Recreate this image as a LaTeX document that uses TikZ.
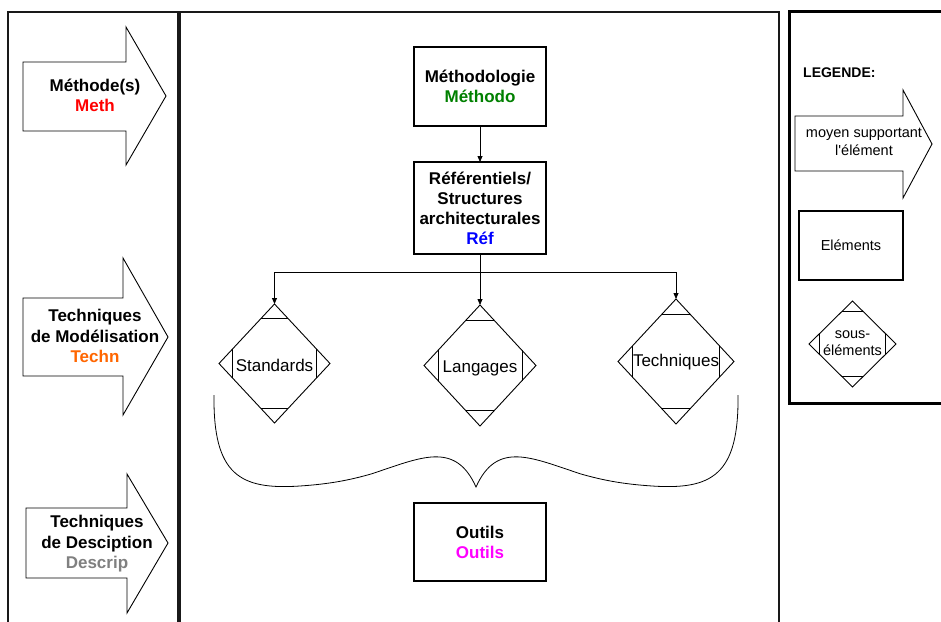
\documentclass[tikz,border=0pt]{standalone}
\usepackage{fontspec}
\setmainfont{Liberation Sans}[Ligatures=TeXOff]
\usetikzlibrary{shapes.geometric,arrows.meta,calc}
\definecolor{methred}{RGB}{255,0,0}
\definecolor{techorange}{RGB}{255,102,0}
\definecolor{descgray}{RGB}{128,128,128}
\definecolor{methgreen}{RGB}{0,128,0}
\definecolor{refblue}{RGB}{0,0,255}
\definecolor{outmagenta}{RGB}{255,0,255}
\newcommand\diamondcuts[1]{%
  \draw[thinline] ($(#1.north)!0.25!(#1.west)$) -- ($(#1.north)!0.25!(#1.east)$);
  \draw[thinline] ($(#1.south)!0.25!(#1.west)$) -- ($(#1.south)!0.25!(#1.east)$);
  \draw[thinline] ($(#1.west)!0.25!(#1.north)$) -- ($(#1.west)!0.25!(#1.south)$);
  \draw[thinline] ($(#1.east)!0.25!(#1.north)$) -- ($(#1.east)!0.25!(#1.south)$);
}
\begin{document}
\begin{tikzpicture}[x=1pt,y=-1pt,
  thinline/.style={draw=black,line width=0.8pt},
  panel/.style={draw=black!90,line width=1.8pt},
  legendframe/.style={draw=black,line width=3pt},
  arrowshape/.style={draw=black,line width=0.9pt,fill=white,line join=miter},
  bigtext/.style={align=center,inner sep=0pt,font=\fontsize{17}{20.5}\selectfont\bfseries},
  elembox/.style={draw=black,line width=1.1pt,fill=white,inner sep=0pt,outer sep=0pt,align=center,font=\fontsize{17}{20}\selectfont\bfseries},
  subdiamond/.style={diamond,draw=black,line width=0.9pt,inner sep=0pt,outer sep=0pt,aspect=1},
  subtext/.style={inner sep=0pt,align=center,font=\fontsize{17}{20}\selectfont},
  legtext/.style={inner sep=0pt,align=center,font=\fontsize{14.5}{17.5}\selectfont},
  conn/.style={thinline,-{Triangle[length=6pt,width=5pt]}}]
\useasboundingbox (0,0) rectangle (941,621);
\clip (0,0) rectangle (941,621);
\fill[white] (0,0) rectangle (941,621);
% panels
\draw[panel] (8,12) rectangle (178,650);
\draw[panel] (180,12) rectangle (779,650);
\draw[legendframe] (789,11) rectangle (950,403);
% left arrows
\draw[arrowshape] (23,62) -- (126,62) -- (126,27) -- (166,96) -- (126,165) -- (126,131) -- (23,131) -- cycle;
\node[bigtext] (methtxt) at (95,95.5) {Méthode(s)\\\textcolor{methred}{Meth}};
\draw[arrowshape] (23,298) -- (123,298) -- (123,258) -- (168,337) -- (123,415) -- (123,376) -- (23,376) -- cycle;
\node[bigtext] (techtxt) at (95,336) {Techniques\\de Modélisation\\\textcolor{techorange}{Techn}};
\draw[arrowshape] (26,508) -- (127,508) -- (127,474) -- (168,543) -- (127,613) -- (127,578) -- (26,578) -- cycle;
\node[bigtext] (desctxt) at (97,544) {Techniques\\de Desciption\\\textcolor{descgray}{Descrip}};
% central boxes
\node[elembox,minimum width=132pt,minimum height=79pt] (methodo) at (480,86.5) {Méthodologie\\\textcolor{methgreen}{Méthodo}};
\node[elembox,minimum width=132pt,minimum height=92pt] (ref) at (480,208) {Référentiels/\\Structures\\architecturales\\\textcolor{refblue}{Réf}};
\node[elembox,minimum width=132pt,minimum height=78pt] (outils) at (480,542) {Outils\\\textcolor{outmagenta}{Outils}};
% diamonds
\node[subdiamond,minimum width=111pt,minimum height=119pt] (std) at (274.5,363.5) {};
\node[subtext] (stdtxt) at (274.5,365) {Standards};
\node[subdiamond,minimum width=112pt,minimum height=121pt] (lang) at (480,365.5) {};
\node[subtext] (langtxt) at (480,368) {Langages};
\node[subdiamond,minimum width=116pt,minimum height=125pt] (tech) at (676,361.5) {};
\node[subtext] (techdtxt) at (676,362.5) {Techniques};
\diamondcuts{std}
\diamondcuts{lang}
\diamondcuts{tech}
% connectors
\coordinate (junc) at (480,272);
\draw[conn] (methodo.south) -- (ref.north);
\draw[conn] (ref.south) -- (lang.north);
\draw[conn] (ref.south) -- (junc) -| (std.north);
\draw[conn] (ref.south) -- (junc) -| (tech.north);
% brace
\draw[thinline] (214,395) .. controls (213,475) and (240,490) .. (300,486)
  .. controls (330,484) and (350,480) .. (371,474)
  .. controls (420,458) and (455,440) .. (476,487)
  .. controls (497,440) and (532,458) .. (581,474)
  .. controls (602,480) and (622,484) .. (652,486)
  .. controls (712,490) and (739,475) .. (738,395);
% legend
\node[inner sep=0pt,anchor=base west,font=\fontsize{14}{17}\selectfont\bfseries] (legtitle) at (803,77) {LEGENDE:};
\draw[arrowshape] (795,116) -- (903,116) -- (903,90) -- (932,144) -- (903,198) -- (903,171) -- (795,171) -- cycle;
\node[legtext] (legarrtxt) at (864,142) {moyen supportant\\l'élément};
\node[draw=black,line width=1.1pt,minimum width=104pt,minimum height=69pt,inner sep=0pt,font=\fontsize{14.5}{17}\selectfont] (legbox) at (851,245.5) {Eléments};
\node[subdiamond,minimum width=87pt,minimum height=86pt] (legdia) at (852.5,344) {};
\node[legtext] (legdiatxt) at (852.5,343) {sous-\\éléments};
\diamondcuts{legdia}
\end{tikzpicture}
\end{document}
